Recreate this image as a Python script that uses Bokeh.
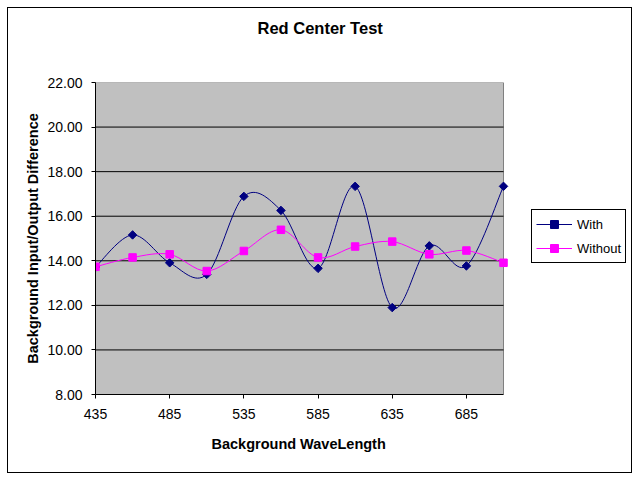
import numpy as np
from bokeh.plotting import figure
from bokeh.models import (FixedTicker, NumeralTickFormatter, Legend, LegendItem, Range1d,
                          ColumnDataSource, Title)
from bokeh.embed import file_html
from bokeh.resources import INLINE

# ---- data ----
wavelengths = [435, 460, 485, 510, 535, 560, 585, 610, 635, 660, 685, 710]
with_vals = [13.72, 15.16, 13.91, 13.39, 16.89, 16.26, 13.66, 17.34, 11.90, 14.67, 13.77, 17.34]
without_vals = [13.73, 14.15, 14.29, 13.54, 14.44, 15.39, 14.15, 14.64, 14.86, 14.29, 14.46, 13.91]
x_ticks = [435, 485, 535, 585, 635, 685]
y_ticks = [8, 10, 12, 14, 16, 18, 20, 22]

FONT = "Liberation Sans"

# ---- layout constants (pixels) ----
W, H = 640, 480
PLOT_L, PLOT_R, PLOT_T, PLOT_B = 95, 503, 82, 394   # grey plot area
FRAME_R = 636                                       # frame extends to host the legend
px_per_unit = (PLOT_R - PLOT_L) / (wavelengths[-1] - wavelengths[0])
x_end = wavelengths[0] + (FRAME_R - PLOT_L) / px_per_unit


def bezier_source(xs, ys):
    P = np.array([xs, ys], dtype=float).T
    n = len(P)
    d = dict(x0=[], y0=[], x1=[], y1=[], cx0=[], cy0=[], cx1=[], cy1=[])
    for i in range(n - 1):
        pm = P[max(i - 1, 0)]
        p0 = P[i]
        p1 = P[i + 1]
        p2 = P[min(i + 2, n - 1)]
        c0 = p0 + (p1 - pm) / 6.0
        c1 = p1 - (p2 - p0) / 6.0
        d["x0"].append(p0[0]); d["y0"].append(p0[1])
        d["x1"].append(p1[0]); d["y1"].append(p1[1])
        d["cx0"].append(c0[0]); d["cy0"].append(c0[1])
        d["cx1"].append(c1[0]); d["cy1"].append(c1[1])
    return ColumnDataSource(d)


p = figure(width=W, height=H, output_backend="svg", toolbar_location=None,
           x_range=Range1d(wavelengths[0], x_end), y_range=Range1d(y_ticks[0], y_ticks[-1]),
           min_border_left=PLOT_L, min_border_right=W - FRAME_R,
           min_border_top=PLOT_T, min_border_bottom=H - PLOT_B)

# chart-area border: drawn as CSS background lines behind a transparent canvas
p.styles = {
    "background-color": "white",
    "background-image": ("linear-gradient(black, black), linear-gradient(black, black), "
                         "linear-gradient(black, black), linear-gradient(black, black)"),
    "background-size": "625px 1px, 625px 1px, 1px 466px, 1px 466px",
    "background-position": "7px 7px, 7px 472px, 7px 7px, 631px 7px",
    "background-repeat": "no-repeat",
}
p.background_fill_color = None
p.border_fill_color = None
p.outline_line_color = None

# spacer between the plot area and the chart title
p.add_layout(Title(text=" ", text_font_size="2px", standoff=42), "above")

p.title.text = "Red Center Test"
p.title.text_font = FONT
p.title.text_font_size = "16.5px"
p.title.text_font_style = "bold"
p.title.text_color = "black"
p.title.align = "left"
p.title.offset = 257 - PLOT_L
p.title.standoff = 0

p.xgrid.grid_line_color = None
p.ygrid.grid_line_color = None

for ax in (p.xaxis[0], p.yaxis[0]):
    ax.axis_line_color = "black"
    ax.major_tick_line_color = "black"
    ax.major_tick_in = 0
    ax.major_tick_out = 4
    ax.minor_tick_line_color = None
    ax.major_label_text_font = FONT
    ax.major_label_text_font_size = "14px"
    ax.major_label_text_color = "black"
    ax.axis_label_text_font = FONT
    ax.axis_label_text_font_size = "14.5px"
    ax.axis_label_text_font_style = "bold"
    ax.axis_label_text_color = "black"

p.xaxis.ticker = FixedTicker(ticks=x_ticks)
p.xaxis.bounds = (wavelengths[0], wavelengths[-1])
p.xaxis.major_label_standoff = 10

# x-axis title, placed under the grey plot area
xlabel = Title(text="Background WaveLength", text_font=FONT, text_font_size="14.5px",
               text_font_style="bold", text_color="black", align="left",
               offset=211 - PLOT_L, standoff=24)
p.add_layout(xlabel, "below")

p.yaxis.ticker = FixedTicker(ticks=y_ticks)
p.yaxis.formatter = NumeralTickFormatter(format="0.00")
p.yaxis.axis_label = "Background Input/Output Difference"
p.yaxis.major_label_standoff = 9
p.yaxis.axis_label_standoff = 3

# grey plot area
p.quad(left=[wavelengths[0]], right=[wavelengths[-1]], bottom=[y_ticks[0]], top=[y_ticks[-1]],
       fill_color="#C0C0C0", line_color="#808080", line_width=1)

# horizontal gridlines
inner = y_ticks[1:-1]
p.segment(x0=[wavelengths[0]] * len(inner), x1=[wavelengths[-1]] * len(inner),
          y0=inner, y1=inner, line_color="black", line_width=1)

src_w = bezier_source(wavelengths, with_vals)
src_wo = bezier_source(wavelengths, without_vals)

bw = p.bezier(x0="x0", y0="y0", x1="x1", y1="y1", cx0="cx0", cy0="cy0", cx1="cx1", cy1="cy1",
              source=src_w, line_color="#000080", line_width=1)
bwo = p.bezier(x0="x0", y0="y0", x1="x1", y1="y1", cx0="cx0", cy0="cy0", cx1="cx1", cy1="cy1",
               source=src_wo, line_color="#FF00FF", line_width=1)
sw = p.scatter(wavelengths, with_vals, marker="square", angle=np.pi / 4, size=6,
               fill_color="#000080", line_color="#000080")
swo = p.scatter(wavelengths, without_vals, marker="square", size=7.5,
                fill_color="#FF00FF", line_color="#FF00FF")

legend = Legend(items=[LegendItem(label="With", renderers=[bw, sw], index=0),
                       LegendItem(label="Without", renderers=[bwo, swo], index=0)],
                location=(531 - PLOT_L, PLOT_B - 263), orientation="vertical",
                label_text_font=FONT, label_text_font_size="13px", label_text_color="black",
                glyph_width=36, glyph_height=20, label_height=20, label_standoff=5,
                padding=4, spacing=4, margin=0,
                border_line_color="black", border_line_width=1, border_line_alpha=1,
                background_fill_color="white", background_fill_alpha=1)
p.add_layout(legend, "center")

open("out.html", "w").write(file_html(p, INLINE))
